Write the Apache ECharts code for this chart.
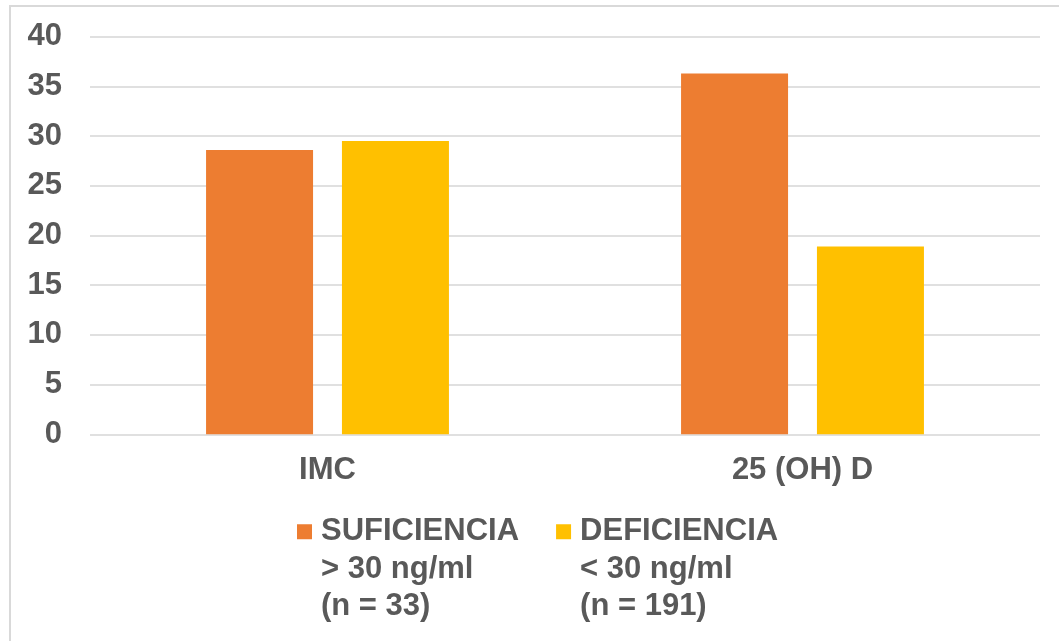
<!DOCTYPE html>
<html>
<head>
<meta charset="utf-8">
<script src="https://cdn.jsdelivr.net/npm/echarts@6/dist/echarts.min.js"></script>
<style>
  html, body { margin: 0; padding: 0; background: #fff; }
  #chart { width: 1059px; height: 641px; }
</style>
</head>
<body>
<div id="chart"></div>
<script>
// Categories and series values
const categories = ['IMC', '25 (OH) D'];
const suficiencia = [28.6, 36.3];
const deficiencia = [29.5, 18.9];
const seriesNames = ['SUFICIENCIA\n> 30 ng/ml\n(n = 33)', 'DEFICIENCIA\n< 30 ng/ml\n(n = 191)'];
const yTicks = [0, 5, 10, 15, 20, 25, 30, 35, 40];

const FONT = '"Liberation Sans", Arial, sans-serif';
const TEXT = '#595959';
const FONT_SIZE = 31;
const LINE_H = 37.5;

const chart = echarts.init(document.getElementById('chart'), null, { renderer: 'canvas' });

// Legend labels: two blank lines in front keep the first line level with the swatch
function legendLabel(name) {
  return '\n\n' + name.split('\n').map(function (l) { return '{t|' + l + '}'; }).join('\n');
}

chart.setOption({
  backgroundColor: '#ffffff',
  animation: false,
  color: ['#ED7D31', '#FFC000'],
  graphic: [{
    type: 'rect',
    silent: true,
    z: -10,
    shape: { x: 10, y: 6, width: 1100, height: 700 },
    style: { fill: 'none', stroke: '#d9d9d9', lineWidth: 2 }
  }],
  grid: { left: 90, right: 19, top: 36.7, bottom: 206.7, containLabel: false },
  xAxis: {
    type: 'category',
    data: categories,
    axisLine: { show: false },
    axisTick: { show: false },
    axisLabel: {
      margin: 21,
      color: TEXT,
      fontFamily: FONT,
      fontWeight: 'bold',
      fontSize: FONT_SIZE
    }
  },
  yAxis: {
    type: 'value',
    min: yTicks[0],
    max: yTicks[yTicks.length - 1],
    interval: 5,
    axisLine: { show: false },
    axisTick: { show: false },
    axisLabel: {
      margin: 28,
      color: TEXT,
      fontFamily: FONT,
      fontWeight: 'bold',
      fontSize: FONT_SIZE
    },
    splitLine: { lineStyle: { color: '#d6d6d6', width: 1.5 } }
  },
  legend: {
    left: 297,
    top: 438,
    padding: 0,
    itemWidth: 15,
    itemHeight: 15,
    itemGap: 37,
    icon: 'rect',
    formatter: legendLabel,
    textStyle: {
      color: TEXT,
      fontFamily: FONT,
      fontWeight: 'bold',
      fontSize: FONT_SIZE,
      lineHeight: LINE_H,
      rich: {
        t: {
          color: TEXT,
          fontFamily: FONT,
          fontWeight: 'bold',
          fontSize: FONT_SIZE,
          lineHeight: LINE_H,
          padding: [0, 0, 0, 4]
        }
      }
    },
    data: seriesNames
  },
  series: [
    {
      name: seriesNames[0],
      type: 'bar',
      data: suficiencia,
      barWidth: 107,
      barGap: '27%',
      itemStyle: { color: '#ED7D31' }
    },
    {
      name: seriesNames[1],
      type: 'bar',
      data: deficiencia,
      barWidth: 107,
      barGap: '27%',
      itemStyle: { color: '#FFC000' }
    }
  ]
});
</script>
</body>
</html>
